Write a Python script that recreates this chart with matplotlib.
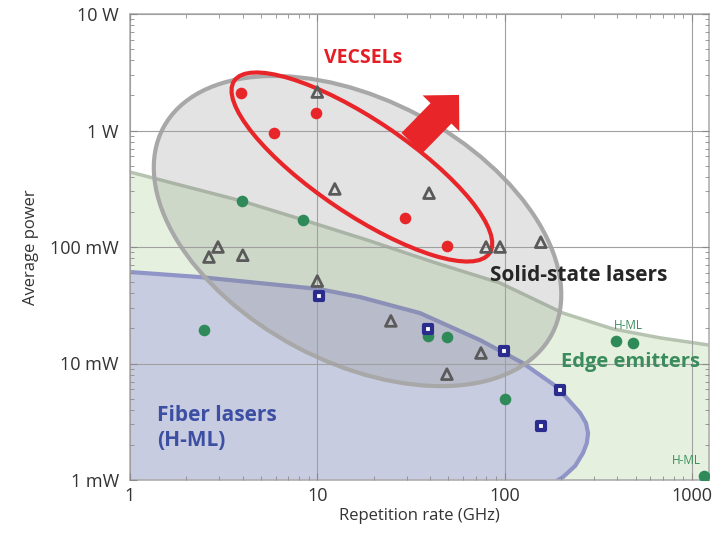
import numpy as np
import matplotlib
matplotlib.use("Agg")
import matplotlib.pyplot as plt
from matplotlib.patches import Ellipse
from matplotlib.transforms import ScaledTranslation
from matplotlib.ticker import FixedLocator, NullFormatter, LogLocator

plt.rcParams['font.family'] = ['Open Sans', 'DejaVu Sans']

# repetition rate (GHz) / average power (W)
vecsel_rate = [3.9, 5.9, 9.8, 29.4, 49.2]
vecsel_power = [2.1, 0.95, 1.41, 0.177, 0.102]

solid_rate = [10.0, 12.4, 2.64, 2.95, 4.0, 39.5, 79.6, 94.5, 156, 10.0, 24.7, 74.8, 49.2]
solid_power = [2.14, 0.315, 0.082, 0.1, 0.085, 0.29, 0.1, 0.1, 0.11, 0.051, 0.0232, 0.0123, 0.0081]

edge_rate = [3.95, 8.4, 2.48, 39, 49.2, 100, 393, 485, 1161]
edge_power = [0.248, 0.171, 0.0194, 0.0172, 0.0169, 0.005, 0.0156, 0.015, 0.00108]

fiber_rate = [10.2, 39, 99.3, 198, 156]
fiber_power = [0.038, 0.0198, 0.0128, 0.0059, 0.0029]

# region outlines
edge_bound_rate = [1, 3.96, 8.4, 18.4, 41.5, 94.5, 205, 379, 676, 1234]
edge_bound_power = [0.44, 0.248, 0.171, 0.115, 0.0743, 0.0491, 0.0271, 0.0198, 0.0166, 0.0144]

fiber_bound_rate = [1, 2.36, 4.94, 10.2, 16.9, 35.3, 73.9, 125, 190.5, 253, 272, 279, 275, 262, 238, 205, 193]
fiber_bound_power = [0.061, 0.0552, 0.049, 0.0436, 0.0372, 0.0271, 0.0159, 0.0101, 0.00628, 0.00376,
                     0.00308, 0.00253, 0.00208, 0.0017, 0.00132, 0.00106, 0.001]

ytick_vals = [1e-3, 1e-2, 1e-1, 1, 10]
ytick_labels = ['1 mW', '10 mW', '100 mW', '1 W', '10 W']
xtick_vals = [1, 10, 100, 1000]
xtick_labels = ['1', '10', '100', '1000']

fig = plt.figure(figsize=(7.12, 5.34), dpi=100)
ax = fig.add_axes([130 / 712, 1 - 480 / 534, 579 / 712, 466 / 534])
ax.set_xscale('log')
ax.set_yscale('log')
ax.set_xlim(1, 1234)
ax.set_ylim(1e-3, 10)

# edge emitters region
ax.fill_between(edge_bound_rate, edge_bound_power, 1e-3, color='#e5f1de', lw=0, zorder=1)
ax.plot(edge_bound_rate, edge_bound_power, color='#b7c3b1', lw=2.5, zorder=1.1,
        solid_joinstyle='round')

# fiber lasers region
ax.fill(fiber_bound_rate + [1], fiber_bound_power + [1e-3], color='#c8cce0', lw=0, zorder=1.2)
ax.plot(fiber_bound_rate, fiber_bound_power, color='#8f95c7', lw=3, zorder=1.3,
        solid_joinstyle='round')

# solid-state ellipse (size in pixels, centred on a data point)
gray = Ellipse((0, 0), 440, 262, angle=-28, facecolor=(0.5, 0.5, 0.5, 0.22),
               edgecolor='#a8a8a8', lw=3, zorder=1.5,
               transform=ScaledTranslation(16.4, 0.137, ax.transData))
ax.add_patch(gray)

red = Ellipse((0, 0), 308, 94, angle=-34, facecolor='none', edgecolor='#e8262a', lw=3,
              zorder=4, transform=ScaledTranslation(17.3, 0.486, ax.transData))
ax.add_patch(red)

ax.annotate('', xy=(57.1, 2.02), xytext=(32.0, 0.78),
            arrowprops=dict(arrowstyle='simple,head_length=18.6,head_width=37,tail_width=21',
                            mutation_scale=1, color='#e8262a', lw=0, shrinkA=0, shrinkB=0),
            zorder=4)

ax.set_axisbelow(False)
ax.grid(which='major', color='#a0a0a0', lw=0.8)

ax.scatter(solid_rate, solid_power, marker='^', s=60, facecolor='none', edgecolor='#5a5a5a',
           lw=2, zorder=5)
ax.scatter(edge_rate, edge_power, marker='o', s=70, color='#2f8a5a', lw=0, zorder=5)
ax.scatter(fiber_rate, fiber_power, marker='s', s=40, facecolor='white', edgecolor='#2a2d8e',
           lw=3, zorder=6)
ax.scatter(vecsel_rate, vecsel_power, marker='o', s=70, color='#e8262a', lw=0, zorder=6)

ax.text(17.5, 4.19, 'VECSELs', color='#e31e24', fontsize=14, fontweight='bold', ha='center', va='center')
ax.text(250, 0.0564, 'Solid-state lasers', color='#262626', fontsize=15, fontweight='bold',
        ha='center', va='center')
ax.text(468, 0.0103, 'Edge emitters', color='#3a8c5c', fontsize=14.5, fontweight='bold',
        ha='center', va='center')
ax.text(1.39, 0.00279, 'Fiber lasers\n(H-ML)', color='#3d4fa3', fontsize=15, fontweight='bold',
        ha='left', va='center', linespacing=1.3)
ax.text(456, 0.0214, 'H-ML', color='#3a8c5c', fontsize=8.5, ha='center', va='center')
ax.text(930, 0.00146, 'H-ML', color='#3a8c5c', fontsize=8.5, ha='center', va='center')

ax.xaxis.set_major_locator(FixedLocator(xtick_vals))
ax.set_xticklabels(xtick_labels)
ax.yaxis.set_major_locator(FixedLocator(ytick_vals))
ax.set_yticklabels(ytick_labels)
ax.xaxis.set_minor_locator(LogLocator(base=10, subs=np.arange(2, 10)))
ax.yaxis.set_minor_locator(LogLocator(base=10, subs=np.arange(2, 10)))
ax.xaxis.set_minor_formatter(NullFormatter())
ax.yaxis.set_minor_formatter(NullFormatter())
ax.tick_params(which='both', direction='in', top=True, right=True, color='#8a8a8a',
               labelsize=13, labelcolor='#333333')
ax.tick_params(which='major', length=5, width=0.8)
ax.tick_params(which='minor', length=3, width=0.6)
ax.tick_params(axis='y', pad=8)
ax.tick_params(axis='x', pad=5)
for s in ax.spines.values():
    s.set_color('#b0b0b0')
    s.set_linewidth(1.2)

ax.set_xlabel('Repetition rate (GHz)', fontsize=12, color='#333333', labelpad=2)
ax.set_ylabel('Average power', fontsize=12, color='#333333', labelpad=8)

fig.savefig('out.png', dpi=100)
